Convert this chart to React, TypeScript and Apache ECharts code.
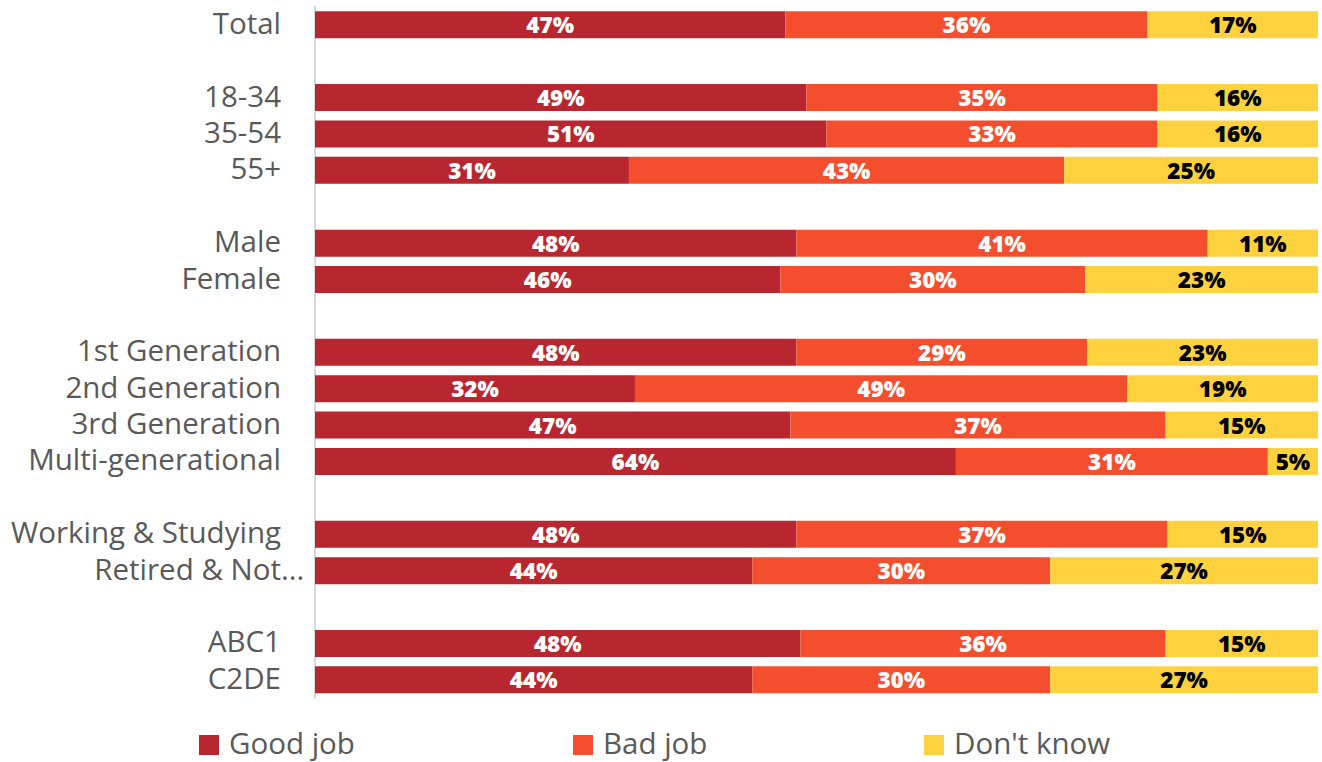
import React, { useEffect, useRef } from "react";
import * as echarts from "echarts";

const categories = [
  "Total", "", "18-34", "35-54", "55+", "", "Male", "Female", "",
  "1st Generation", "2nd Generation", "3rd Generation", "Multi-generational", "",
  "Working & Studying", "Retired & Not...", "", "ABC1", "C2DE",
];
const seriesNames = ["Good job", "Bad job", "Don't know"];
const goodJob = [46.9, null, 49.0, 51.0, 31.3, null, 48.0, 46.4, null, 48.0, 31.9, 47.4, 63.9, null, 48.0, 43.6, null, 48.4, 43.6];
const badJob = [36.1, null, 35.0, 33.0, 43.4, null, 41.0, 30.4, null, 29.0, 49.1, 37.4, 31.1, null, 37.0, 29.7, null, 36.4, 29.7];
const dontKnow = [17.0, null, 16.0, 16.0, 25.3, null, 11.0, 23.2, null, 23.0, 19.0, 15.2, 5.0, null, 15.0, 26.7, null, 15.2, 26.7];

const COLORS = ["#B8262F", "#F44E2F", "#FED23E"];
const LABEL_COLORS = ["#ffffff", "#ffffff", "#000000"];
const FONT = "'Open Sans', 'DejaVu Sans', sans-serif";
const TEXT_GREY = "#595959";
const LEGEND_LEFTS = [199, 573, 924];
const LEGEND_TOP = 737;

export default function App() {
  const ref = useRef<HTMLDivElement>(null);

  useEffect(() => {
    if (!ref.current) return;
    const chart = echarts.init(ref.current, null, { renderer: "svg" });
    const values = [goodJob, badJob, dontKnow];
    const axisData = categories.map((c, i) => (c === "" ? `__gap${i}` : c));
    const labelFont = { fontSize: 29.5, color: TEXT_GREY, fontFamily: FONT, lineHeight: 30 };

    const legendGraphics = seriesNames.map((n, i) => ({
      type: "group",
      left: LEGEND_LEFTS[i],
      top: LEGEND_TOP - 10,
      children: [
        {
          type: "rect",
          shape: { x: 0, y: 10, width: 20, height: 20 },
          style: { fill: COLORS[i] },
        },
        {
          type: "text",
          style: {
            text: n,
            x: 30,
            y: 17,
            fill: TEXT_GREY,
            fontSize: 29.5,
            fontFamily: FONT,
            align: "left",
            verticalAlign: "middle",
          },
        },
      ],
    }));

    chart.setOption({
      animation: false,
      backgroundColor: "#ffffff",
      grid: { left: 315, right: 4, top: 6.6, bottom: 64, containLabel: false },
      xAxis: { type: "value", min: 0, max: 100, show: false },
      yAxis: {
        type: "category",
        inverse: true,
        data: axisData,
        axisLine: { show: true, lineStyle: { color: "#d9d9d9", width: 2 } },
        axisTick: { show: false },
        splitLine: { show: false },
        axisLabel: {
          interval: 0,
          margin: 34,
          ...labelFont,
          padding: [0, 0, 5, 0],
          formatter: (v: string) => {
            if (v.startsWith("__gap")) return "";
            if (v.endsWith("...")) return `{a|${v.slice(0, -3)}}{e|...}`;
            return v;
          },
          rich: {
            a: { ...labelFont, align: "left" },
            e: { ...labelFont, width: 0, align: "left" },
          },
        },
      },
      graphic: legendGraphics,
      series: seriesNames.map((n, i) => ({
        name: n,
        type: "bar",
        stack: "total",
        barWidth: 27,
        itemStyle: { color: COLORS[i] },
        label: {
          show: true,
          position: "inside",
          color: LABEL_COLORS[i],
          fontSize: 22.5,
          fontWeight: 800,
          fontFamily: FONT,
          formatter: (p: any) => (p.value == null || p.value === "-" ? "" : `${Math.round(p.value)}%`),
        },
        emphasis: { disabled: true },
        data: values[i].map((v) => (v == null ? "-" : v)),
      })),
    });

    return () => chart.dispose();
  }, []);

  return (
    <div
      ref={ref}
      style={{ position: "fixed", left: 0, top: 0, width: 1322, height: 762, background: "#fff" }}
    />
  );
}
